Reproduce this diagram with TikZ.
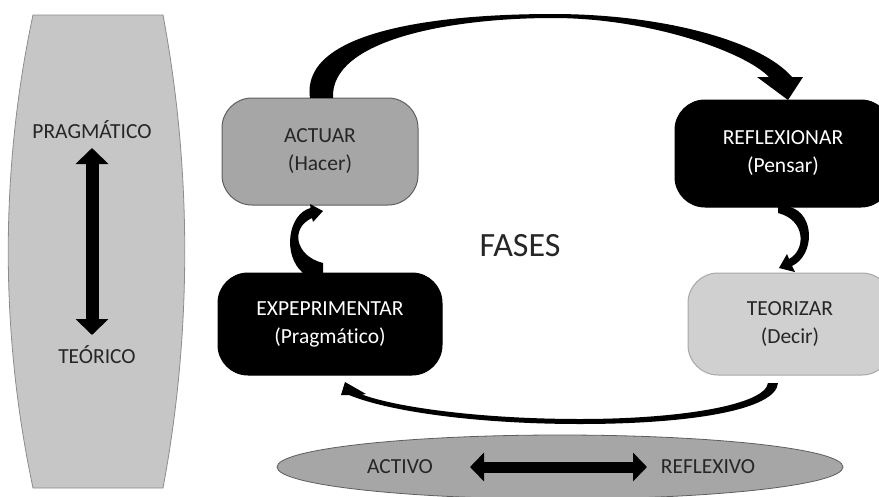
\documentclass[tikz,border=0pt]{standalone}
\usepackage{fontspec}
\setmainfont[Ligatures=NoCommon]{Carlito}
\usetikzlibrary{arrows.meta,shapes.geometric}
\definecolor{txt}{HTML}{262626}
\definecolor{grayA}{HTML}{A6A6A6}
\definecolor{edgeA}{HTML}{5E5E5E}
\definecolor{grayL}{HTML}{D0D0D0}
\definecolor{edgeL}{HTML}{A8A8A8}
\definecolor{panel}{HTML}{C6C6C6}
\definecolor{panelEdge}{HTML}{8C8C8C}
\begin{document}
\begin{tikzpicture}[x=1pt,y=-1pt,
  box/.style={rounded corners=30pt, draw, line width=1pt, align=center,
    font=\fontsize{21.5}{28}\selectfont, inner sep=0pt},
  lbl/.style={font=\fontsize{21.5}{25}\selectfont, text=txt, inner sep=0pt},
  dblv/.style={line width=13pt, {Triangle[width=32pt,length=16pt]}-{Triangle[width=32pt,length=16pt]}},
  dblh/.style={line width=11pt, {Triangle[width=28pt,length=14pt]}-{Triangle[width=28pt,length=14pt]}},
  flow/.style={fill=black}]
\useasboundingbox (0,0) rectangle (879,496);
\clip (0,0) rectangle (879,496);

% left panel
\path[draw=panelEdge, fill=panel, line width=0.8pt]
  (33,15) .. controls (0,170) and (0,333) .. (33,488) -- (163,488)
  .. controls (192,333) and (192,170) .. (163,15) -- cycle;
\node[lbl] (prag) at (92,130) {PRAGMÁTICO};
\node[lbl] (teo) at (97,355) {TEÓRICO};
\coordinate (pa) at (92,148);
\coordinate (pb) at (92,335);
\draw[dblv] (pa) -- (pb);

% phase boxes
\node[box, fill=grayA, draw=edgeA, text=txt, minimum width=196pt, minimum height=107pt]
  (actuar) at (320,151.5) {ACTUAR\\(Hacer)};
\node[box, fill=black, draw=black, text=white, minimum width=216pt, minimum height=107pt]
  (refl) at (783,153.5) {REFLEXIONAR\\(Pensar)};
\node[box, fill=black, draw=black, text=white, minimum width=224pt, minimum height=102pt]
  (expe) at (330,324) {EXPEPRIMENTAR\\(Pragmático)};
\node[box, fill=grayL, draw=edgeL, text=txt, minimum width=204pt, minimum height=102pt]
  (teor) at (790,324) {TEORIZAR\\(Decir)};

\node[font=\fontsize{34}{38}\selectfont, text=txt, inner sep=0pt] (fases) at (520,246) {FASES};

% bottom axis
\node[ellipse, draw=edgeA, fill=grayA, line width=0.8pt, minimum width=566pt,
  minimum height=64pt, inner sep=0pt] (axis) at (560,467) {};
\node[lbl] (activo) at (400,467) {ACTIVO};
\node[lbl] (reflexivo) at (708,467) {REFLEXIVO};
\coordinate (ha) at (470,467);
\coordinate (hb) at (647,467);
\draw[dblh] (ha) -- (hb);

% flow arrows
\fill[flow] (310,98) .. controls (300,30) and (440,14) .. (553,14)
  .. controls (660,14) and (760,40) .. (792,77) -- (803,77) -- (788,100)
  -- (757,77) -- (769,77) .. controls (745,52) and (650,18) .. (553,18)
  .. controls (450,18) and (330,40) .. (333,98) -- cycle;

\fill[flow] (790,207) .. controls (815,214) and (815,255) .. (792,266)
  -- (795,272) -- (779,268) -- (787,254) -- (789,259)
  .. controls (806,250) and (806,220) .. (778,213) -- (778,207) -- cycle;

\fill[flow] (778,383) .. controls (776,410) and (690,424) .. (580,424)
  .. controls (480,424) and (390,412) .. (349,395) -- (341,395) -- (345,382)
  -- (366,394) -- (362,394.5) .. controls (395,407) and (480,419) .. (580,419)
  .. controls (680,419) and (765,405) .. (768,383) -- cycle;

\fill[flow] (303,273) .. controls (282,255) and (288,214) .. (310.5,208)
  -- (310,204) -- (323,211) -- (313,222) -- (312,218)
  .. controls (290,228) and (295,256) .. (323,263) -- (323,273) -- cycle;
\end{tikzpicture}
\end{document}
